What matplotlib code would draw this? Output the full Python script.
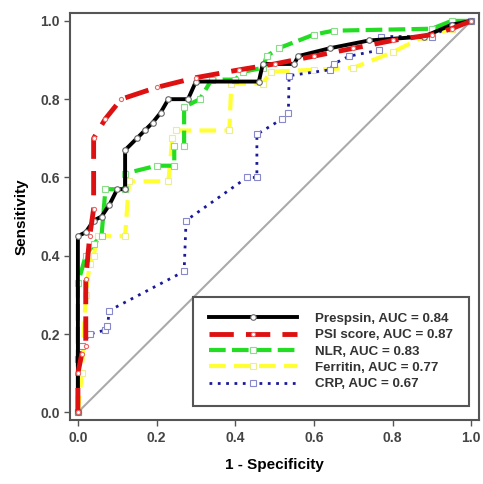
import matplotlib
matplotlib.use("Agg")
import matplotlib.pyplot as plt

plt.rcParams['font.family'] = ['Liberation Sans', 'DejaVu Sans']

# ROC curves (1 - specificity, sensitivity)
prespsin_x = [0, 0, 0.02, 0.04, 0.06, 0.08, 0.10, 0.12, 0.12, 0.15, 0.17, 0.19, 0.21, 0.23, 0.28, 0.30,
              0.46, 0.47, 0.55, 0.56, 0.64, 0.74, 0.88, 0.95, 1.0]
prespsin_y = [0, 0.45, 0.46, 0.49, 0.50, 0.53, 0.57, 0.57, 0.67, 0.70, 0.72, 0.74, 0.765, 0.80, 0.80, 0.845,
              0.845, 0.89, 0.89, 0.91, 0.93, 0.95, 0.96, 0.99, 1.0]

psi_x = [0, 0, 0.01, 0.02, 0.02, 0.03, 0.04, 0.04, 0.07, 0.11, 0.20, 0.30, 0.41, 0.50, 0.60, 0.70,
         0.80, 0.90, 0.95, 1.0]
psi_y = [0, 0.10, 0.15, 0.17, 0.34, 0.45, 0.52, 0.70, 0.75, 0.80, 0.83, 0.855, 0.875, 0.89, 0.91, 0.93,
         0.95, 0.965, 0.98, 1.0]

nlr_x = [0, 0, 0.02, 0.04, 0.06, 0.07, 0.12, 0.12, 0.20, 0.245, 0.245, 0.27, 0.27, 0.31, 0.34, 0.40,
         0.42, 0.47, 0.48, 0.51, 0.60, 0.65, 0.90, 0.95, 1.0]
nlr_y = [0, 0.33, 0.40, 0.43, 0.45, 0.57, 0.57, 0.61, 0.63, 0.63, 0.68, 0.68, 0.78, 0.80, 0.85, 0.85,
         0.87, 0.88, 0.91, 0.93, 0.965, 0.975, 0.98, 1.0, 1.0]

ferritin_x = [0, 0.01, 0.02, 0.03, 0.04, 0.05, 0.12, 0.13, 0.23, 0.24, 0.25, 0.385, 0.39, 0.47, 0.49,
              0.60, 0.70, 0.80, 0.88, 0.95, 1.0]
ferritin_y = [0, 0.10, 0.30, 0.38, 0.40, 0.45, 0.45, 0.59, 0.59, 0.70, 0.72, 0.72, 0.84, 0.84, 0.87,
              0.875, 0.88, 0.92, 0.96, 0.98, 1.0]

crp_x = [0, 0, 0.01, 0.03, 0.07, 0.075, 0.08, 0.27, 0.275, 0.43, 0.455, 0.455, 0.52, 0.535, 0.537,
         0.64, 0.65, 0.69, 0.765, 0.77, 0.90, 0.95, 1.0]
crp_y = [0, 0.135, 0.17, 0.20, 0.21, 0.22, 0.26, 0.36, 0.49, 0.60, 0.60, 0.71, 0.75, 0.765, 0.86,
         0.875, 0.89, 0.91, 0.925, 0.96, 0.96, 0.99, 1.0]

labels = ['Prespsin, AUC = 0.84', 'PSI score, AUC = 0.87', 'NLR, AUC = 0.83',
          'Ferritin, AUC = 0.77', 'CRP, AUC = 0.67']

fig = plt.figure(figsize=(4.83, 4.84), dpi=100)
ax = fig.add_axes([0.145, 0.132, 0.847, 0.841])

ax.plot([0, 1], [0, 1], color='#aaaaaa', lw=1.5, zorder=1)

ax.plot(ferritin_x, ferritin_y, color='#ffff33', lw=3, ls=(0, (4, 2)), marker='s', ms=4,
        mfc='white', mec='#eeee88', mew=0.8, label=labels[3], zorder=2)
ax.plot(nlr_x, nlr_y, color='#22dd22', lw=3, ls=(0, (4, 1.5)), marker='s', ms=4,
        mfc='white', mec='#88dd88', mew=0.8, label=labels[2], zorder=3)
ax.plot(crp_x, crp_y, color='#1a1a99', lw=2, ls=(0, (1, 2)), marker='s', ms=4,
        mfc='white', mec='#8888cc', mew=0.8, label=labels[4], zorder=3)
ax.plot(prespsin_x, prespsin_y, color='black', lw=2.8, marker='o', ms=4,
        mfc='white', mec='#666666', mew=0.8, label=labels[0], zorder=4)
ax.plot(psi_x, psi_y, color='#dd1111', lw=3.5, ls=(0, (5, 2.5)), marker='o', ms=3,
        mfc='white', mec='#ee6666', mew=0.8, label=labels[1], zorder=5)

ax.set_xlim(-0.02, 1.02)
ax.set_ylim(-0.02, 1.02)
ticks = [0.0, 0.2, 0.4, 0.6, 0.8, 1.0]
ax.set_xticks(ticks)
ax.set_yticks(ticks)
ax.set_xticklabels(['0.0', '0.2', '0.4', '0.6', '0.8', '1.0'], fontweight='bold')
ax.set_yticklabels(['0.0', '0.2', '0.4', '0.6', '0.8', '1.0'], fontweight='bold')
ax.tick_params(direction='out', length=4, width=1, colors='#555555', labelsize=10,
               labelcolor='#444444')
for s in ax.spines.values():
    s.set_color('#555555')
    s.set_linewidth(1.5)

ax.set_xlabel('1 - Specificity', fontsize=11, fontweight='bold', labelpad=10)
ax.set_ylabel('Sensitivity', fontsize=11, fontweight='bold', labelpad=8)

handles, labs = ax.get_legend_handles_labels()
order = [labs.index(l) for l in labels]
leg = ax.legend([handles[i] for i in order], [labs[i] for i in order],
                loc='lower right', bbox_to_anchor=(0.976, 0.034), borderaxespad=0,
                fancybox=False, edgecolor='#555555', framealpha=1, handlelength=6.6,
                prop={'weight': 'bold', 'size': 9.6}, labelspacing=0.3, borderpad=1.2,
                handletextpad=1.4)
leg.get_frame().set_linewidth(1.5)
for t in leg.get_texts():
    t.set_color('#333333')

fig.savefig('out.png', dpi=100)
